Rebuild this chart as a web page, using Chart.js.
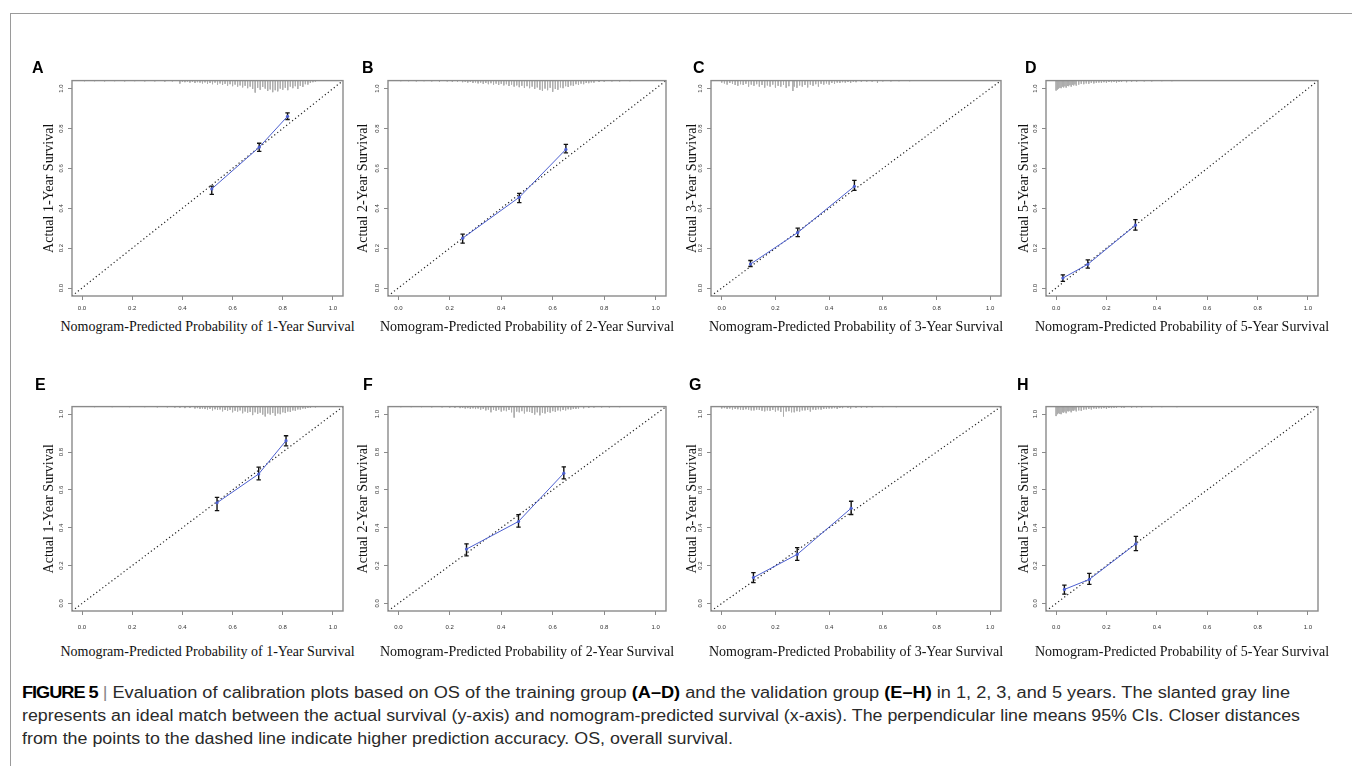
<!DOCTYPE html>
<html>
<head>
<meta charset="utf-8">
<script src="https://cdn.jsdelivr.net/npm/chart.js@4.4.1/dist/chart.umd.min.js"></script>
<style>
  body { margin: 0; background: #fff; width: 1352px; height: 766px; position: relative; overflow: hidden; }
  .frame { position: absolute; left: 10px; top: 13px; width: 1400px; height: 800px; border-left: 1px solid #9a9a9a; border-top: 1px solid #9a9a9a; }
  canvas { position: absolute; }
  .letter { position: absolute; font: bold 16px "Liberation Sans", Arial, sans-serif; line-height: 16px; color: #000; }
  .xt { position: absolute; font: 14px "Liberation Serif", "Times New Roman", serif; line-height: 16px; white-space: nowrap; transform: translateX(-50%); color: #111; }
  .cap { position: absolute; left: 22px; font: 16px "Liberation Sans", Arial, sans-serif; line-height: 18px; white-space: nowrap; transform-origin: 0 0; color: #2a2a2a; }
  .cap b { font-weight: bold; color: #000; }
  .cap b.fig { letter-spacing: -0.9px; }
  .cap .sep { color: #888; }
</style>
</head>
<body>
<div class="frame"></div>
<div id="root"></div>
<div class="cap" id="cap1" style="top:684px"><b class="fig">FIGURE 5</b> <span class="sep">|</span> Evaluation of calibration plots based on OS of the training group <b>(A–D)</b> and the validation group <b>(E–H)</b> in 1, 2, 3, and 5 years. The slanted gray line</div>
<div class="cap" id="cap2" style="top:707px">represents an ideal match between the actual survival (y-axis) and nomogram-predicted survival (x-axis). The perpendicular line means 95% CIs. Closer distances</div>
<div class="cap" id="cap3" style="top:730px">from the points to the dashed line indicate higher prediction accuracy. OS, overall survival.</div>
<script>
// axis range (R pads 4% each side) and tick labels
const axisMin = -0.04
const axisMax = 1.04
const tickValues = [0, 0.2, 0.4, 0.6, 0.8, 1.0]

// training group
const predA = [0.517, 0.706, 0.819]
const obsA = [0.497, 0.706, 0.861]
const loA = [0.470, 0.685, 0.845]
const hiA = [0.511, 0.726, 0.878]

const predB = [0.250, 0.470, 0.651]
const obsB = [0.250, 0.455, 0.695]
const loB = [0.225, 0.428, 0.678]
const hiB = [0.270, 0.475, 0.720]

const predC = [0.107, 0.283, 0.494]
const obsC = [0.120, 0.278, 0.510]
const loC = [0.108, 0.258, 0.490]
const hiC = [0.138, 0.300, 0.540]

const predD = [0.027, 0.126, 0.315]
const obsD = [0.050, 0.119, 0.315]
const loD = [0.033, 0.100, 0.290]
const hiD = [0.066, 0.141, 0.343]

// validation group
const predE = [0.538, 0.704, 0.813]
const obsE = [0.532, 0.684, 0.860]
const loE = [0.490, 0.653, 0.833]
const hiE = [0.560, 0.720, 0.886]

const predF = [0.265, 0.467, 0.643]
const obsF = [0.287, 0.433, 0.688]
const loF = [0.251, 0.403, 0.658]
const hiF = [0.315, 0.469, 0.722]

const predG = [0.118, 0.281, 0.482]
const obsG = [0.137, 0.259, 0.503]
const loG = [0.110, 0.228, 0.470]
const hiG = [0.163, 0.295, 0.540]

const predH = [0.033, 0.132, 0.317]
const obsH = [0.074, 0.127, 0.315]
const loH = [0.049, 0.101, 0.279]
const hiH = [0.097, 0.159, 0.354]

// spike histograms at the top: [predicted prob, spike length]
const rugA = [[0.01,.003],[0.05,.003],[0.09,.004],[0.13,.003],[0.17,.004],[0.21,.003],[0.25,.004],[0.29,.004],[0.33,.005],[0.36,.004],[0.39,.015],
    [0.40,.006],[0.41,.008],[0.42,.005],[0.43,.01],[0.44,.006],[0.45,.012],[0.46,.008],[0.47,.01],[0.48,.014],[0.49,.009],[0.50,.016],
    [0.51,.012],[0.52,.018],[0.53,.01],[0.54,.02],[0.55,.014],[0.56,.022],[0.57,.016],[0.58,.025],[0.59,.018],[0.60,.028],[0.61,.02],
    [0.62,.03],[0.63,.024],[0.64,.034],[0.65,.026],[0.66,.038],[0.67,.03],[0.68,.042],[0.69,.06],[0.70,.036],[0.71,.046],[0.72,.032],
    [0.73,.04],[0.74,.052],[0.75,.044],[0.76,.058],[0.77,.048],[0.78,.054],[0.79,.04],[0.80,.046],[0.81,.036],[0.82,.048],[0.83,.03],
    [0.84,.038],[0.85,.028],[0.86,.042],[0.87,.026],[0.88,.032],[0.89,.018],[0.90,.02],[0.91,.012],[0.92,.008],[0.93,.005]]
const rugB = [[0.01,.003],[0.04,.003],[0.07,.004],[0.1,.003],[0.13,.004],[0.16,.005],[0.19,.004],[0.21,.006],[0.23,.005],[0.25,.008],
    [0.26,.006],[0.27,.01],[0.28,.007],[0.29,.012],[0.30,.009],[0.31,.014],[0.32,.01],[0.33,.016],[0.34,.012],[0.35,.018],[0.36,.013],
    [0.37,.02],[0.38,.015],[0.39,.022],[0.40,.016],[0.41,.024],[0.42,.018],[0.43,.027],[0.44,.02],[0.45,.03],[0.46,.024],[0.47,.033],
    [0.48,.026],[0.49,.036],[0.50,.028],[0.51,.038],[0.52,.03],[0.53,.042],[0.54,.034],[0.55,.046],[0.56,.052],[0.57,.04],[0.58,.048],
    [0.59,.036],[0.60,.056],[0.61,.042],[0.62,.046],[0.63,.034],[0.64,.038],[0.65,.028],[0.66,.032],[0.67,.024],[0.68,.026],[0.69,.018],
    [0.70,.022],[0.71,.015],[0.72,.018],[0.73,.012],[0.74,.013],[0.75,.009],[0.76,.01],[0.78,.007],[0.8,.006],[0.83,.004],[0.86,.004],[0.9,.003]]
const rugC = [[0.0,.01],[0.01,.014],[0.02,.02],[0.03,.012],[0.04,.016],[0.05,.022],[0.06,.026],[0.07,.018],[0.08,.022],[0.09,.016],
    [0.10,.03],[0.11,.02],[0.12,.026],[0.13,.018],[0.14,.03],[0.15,.022],[0.16,.035],[0.17,.024],[0.18,.03],[0.19,.02],[0.20,.035],
    [0.21,.026],[0.22,.03],[0.23,.022],[0.24,.036],[0.25,.028],[0.265,.052],[0.27,.03],[0.28,.036],[0.29,.024],[0.30,.03],[0.31,.022],
    [0.32,.034],[0.33,.02],[0.34,.026],[0.35,.018],[0.36,.03],[0.37,.016],[0.38,.02],[0.39,.014],[0.40,.02],[0.41,.012],[0.42,.016],
    [0.43,.01],[0.44,.012],[0.45,.008],[0.46,.01],[0.47,.007],[0.48,.012],[0.49,.006],[0.50,.008],[0.52,.006],[0.54,.005],[0.56,.005],
    [0.58,.012],[0.6,.004],[0.63,.004],[0.66,.003],[0.7,.003]]
const rugD = [[0.0,.05],[0.005,.045],[0.01,.04],[0.015,.036],[0.02,.038],[0.025,.03],[0.03,.034],[0.035,.028],[0.04,.035],[0.045,.026],
    [0.05,.028],[0.055,.022],[0.06,.03],[0.065,.02],[0.07,.024],[0.075,.018],[0.08,.025],[0.09,.02],[0.1,.016],[0.11,.018],[0.12,.014],
    [0.13,.016],[0.14,.012],[0.15,.014],[0.16,.012],[0.17,.01],[0.18,.011],[0.19,.008],[0.2,.012],[0.21,.007],[0.22,.008],[0.23,.006],
    [0.24,.01],[0.25,.006],[0.26,.006],[0.28,.008],[0.3,.005],[0.32,.005],[0.35,.004],[0.38,.004],[0.42,.003],[0.46,.003],[0.5,.002]]
const rugE = [[0.05,.003],[0.12,.003],[0.19,.003],[0.25,.003],[0.3,.004],[0.34,.004],[0.37,.005],[0.39,.006],[0.41,.008],[0.43,.007],
    [0.45,.01],[0.46,.008],[0.47,.012],[0.48,.01],[0.49,.013],[0.50,.015],[0.51,.012],[0.52,.02],[0.53,.014],[0.54,.018],[0.55,.015],
    [0.56,.025],[0.57,.018],[0.58,.022],[0.59,.017],[0.60,.03],[0.61,.022],[0.62,.026],[0.63,.02],[0.64,.035],[0.65,.026],[0.66,.032],
    [0.67,.028],[0.68,.045],[0.69,.03],[0.70,.038],[0.71,.032],[0.72,.042],[0.73,.052],[0.74,.036],[0.75,.042],[0.76,.034],[0.77,.048],
    [0.78,.036],[0.79,.04],[0.80,.03],[0.81,.034],[0.82,.026],[0.83,.028],[0.84,.02],[0.85,.022],[0.86,.015],[0.87,.016],[0.88,.01],
    [0.89,.011],[0.90,.007],[0.91,.006],[0.93,.004]]
const rugF = [[0.01,.003],[0.05,.003],[0.09,.003],[0.13,.004],[0.17,.004],[0.2,.005],[0.22,.006],[0.24,.008],[0.25,.006],[0.26,.01],
    [0.27,.008],[0.28,.012],[0.29,.009],[0.30,.013],[0.31,.01],[0.32,.016],[0.33,.012],[0.34,.02],[0.35,.016],[0.36,.03],[0.37,.018],
    [0.38,.022],[0.39,.016],[0.40,.026],[0.41,.02],[0.42,.024],[0.43,.018],[0.44,.03],[0.45,.058],[0.46,.026],[0.47,.03],[0.48,.024],
    [0.49,.036],[0.50,.026],[0.51,.028],[0.52,.034],[0.53,.042],[0.54,.03],[0.55,.046],[0.56,.032],[0.57,.036],[0.58,.028],[0.59,.032],
    [0.60,.024],[0.61,.028],[0.62,.02],[0.63,.024],[0.64,.018],[0.65,.02],[0.66,.014],[0.67,.016],[0.68,.012],[0.69,.012],[0.70,.01],
    [0.72,.009],[0.74,.007],[0.76,.005],[0.79,.004],[0.82,.004],[0.86,.003]]
const rugG = [[0.0,.01],[0.01,.008],[0.02,.012],[0.03,.01],[0.04,.015],[0.05,.012],[0.06,.014],[0.07,.016],[0.08,.018],[0.09,.014],
    [0.10,.016],[0.11,.02],[0.12,.02],[0.13,.016],[0.14,.018],[0.15,.022],[0.16,.025],[0.17,.02],[0.18,.022],[0.19,.018],[0.20,.026],
    [0.21,.02],[0.22,.028],[0.23,.052],[0.24,.026],[0.25,.024],[0.26,.03],[0.27,.03],[0.28,.024],[0.29,.026],[0.30,.02],[0.31,.02],
    [0.32,.018],[0.33,.026],[0.34,.016],[0.35,.018],[0.36,.014],[0.37,.016],[0.38,.012],[0.39,.012],[0.40,.01],[0.41,.01],[0.42,.008],
    [0.43,.012],[0.44,.007],[0.45,.008],[0.47,.006],[0.48,.01],[0.5,.006],[0.52,.005],[0.54,.005],[0.56,.004],[0.6,.003],[0.65,.003],[0.7,.002],[0.74,.002]]
const rugH = [[0.0,.05],[0.005,.04],[0.01,.035],[0.015,.038],[0.02,.04],[0.025,.03],[0.03,.032],[0.035,.026],[0.04,.035],[0.045,.024],
    [0.05,.025],[0.055,.022],[0.06,.03],[0.065,.02],[0.07,.022],[0.075,.016],[0.08,.025],[0.09,.02],[0.1,.022],[0.11,.016],[0.12,.015],
    [0.13,.012],[0.14,.015],[0.15,.01],[0.16,.012],[0.17,.009],[0.18,.01],[0.19,.008],[0.2,.012],[0.21,.007],[0.22,.008],[0.23,.006],
    [0.24,.006],[0.26,.005],[0.27,.006],[0.3,.005],[0.32,.004],[0.34,.004],[0.38,.004],[0.42,.003],[0.48,.003],[0.55,.002],[0.6,.002]]

const years = [1, 2, 3, 5]

// layout: plot box edges for each column / row
const colBox = [[72, 343], [388, 666], [711, 1001], [1046, 1318]]
const rowBox = [[80, 296], [406, 611]]
const yTitlePad = [14, 12, 18, 15]
const letterPos = [[32, 60], [362, 60], [693, 60], [1025, 60], [35, 377], [363, 377], [689, 377], [1017, 377]]
const xTitleY = [319, 644]

const panels = [
    { id: 'A', pred: predA, obs: obsA, lo: loA, hi: hiA, rug: rugA },
    { id: 'B', pred: predB, obs: obsB, lo: loB, hi: hiB, rug: rugB },
    { id: 'C', pred: predC, obs: obsC, lo: loC, hi: hiC, rug: rugC },
    { id: 'D', pred: predD, obs: obsD, lo: loD, hi: hiD, rug: rugD },
    { id: 'E', pred: predE, obs: obsE, lo: loE, hi: hiE, rug: rugE },
    { id: 'F', pred: predF, obs: obsF, lo: loF, hi: hiF, rug: rugF },
    { id: 'G', pred: predG, obs: obsG, lo: loG, hi: hiG, rug: rugG },
    { id: 'H', pred: predH, obs: obsH, lo: loH, hi: hiH, rug: rugH },
]

const axisGray = '#8a8a8a'
const blue = '#4c5fd0'

// R-style box around the plot region
const framePlugin = {
    id: 'frame',
    afterDatasetsDraw(chart) {
        const { ctx, chartArea: a } = chart
        ctx.save()
        ctx.strokeStyle = axisGray
        ctx.lineWidth = 1.4
        ctx.strokeRect(a.left, a.top, a.right - a.left, a.bottom - a.top)
        ctx.restore()
    },
}

const root = document.getElementById('root')

panels.forEach((p, i) => {
    const col = i % 4
    const row = Math.floor(i / 4)
    const [bl, br] = colBox[col]
    const [bt, bb] = rowBox[row]
    const year = years[col]

    const cl = bl - 45
    const cr = br + 8
    const ct = bt - 5
    const cb = bb + 22

    const canvas = document.createElement('canvas')
    canvas.width = cr - cl
    canvas.height = cb - ct
    canvas.style.left = cl + 'px'
    canvas.style.top = ct + 'px'
    root.appendChild(canvas)

    const letter = document.createElement('div')
    letter.className = 'letter'
    letter.textContent = p.id
    letter.style.left = letterPos[i][0] + 'px'
    letter.style.top = letterPos[i][1] + 'px'
    root.appendChild(letter)

    const xt = document.createElement('div')
    xt.className = 'xt'
    xt.textContent = `Nomogram-Predicted Probability of ${year}-Year Survival`
    xt.style.left = (bl + br) / 2 + 'px'
    xt.style.top = xTitleY[row] + 'px'
    root.appendChild(xt)

    const rugData = []
    p.rug.forEach(([x, h]) => {
        rugData.push({ x, y: axisMax }, { x, y: axisMax - h }, { x, y: null })
    })
    const ciData = []
    const capData = []
    p.pred.forEach((x, k) => {
        ciData.push({ x, y: p.lo[k] }, { x, y: p.hi[k] }, { x, y: null })
        capData.push({ x, y: p.lo[k] }, { x, y: p.hi[k] })
    })

    new Chart(canvas.getContext('2d'), {
        type: 'scatter',
        data: {
            datasets: [
                {
                    type: 'line',
                    data: p.pred.map((x, k) => ({ x, y: p.obs[k] })),
                    borderColor: blue,
                    borderWidth: 1,
                    pointRadius: 1.6,
                    pointBackgroundColor: blue,
                    pointBorderWidth: 0,
                },
                {
                    data: capData,
                    pointStyle: 'line',
                    pointRadius: 2.2,
                    borderColor: '#111',
                    pointBorderWidth: 1.3,
                    showLine: false,
                },
                {
                    type: 'line',
                    data: ciData,
                    borderColor: '#111',
                    borderWidth: 1.4,
                    pointRadius: 0,
                    spanGaps: false,
                },
                {
                    type: 'line',
                    data: [{ x: axisMin, y: axisMin }, { x: axisMax, y: axisMax }],
                    borderColor: '#222',
                    borderWidth: 1.2,
                    borderDash: [1.2, 2.6],
                    pointRadius: 0,
                },
                {
                    type: 'line',
                    data: rugData,
                    borderColor: '#adadad',
                    borderWidth: 1,
                    pointRadius: 0,
                    spanGaps: false,
                },
            ],
        },
        options: {
            responsive: false,
            animation: false,
            devicePixelRatio: 1,
            layout: { padding: { top: bt - ct, right: cr - br, left: 0, bottom: 0 } },
            plugins: { legend: { display: false }, tooltip: { enabled: false } },
            scales: {
                x: {
                    type: 'linear',
                    min: axisMin,
                    max: axisMax,
                    afterBuildTicks: (s) => { s.ticks = tickValues.map((v) => ({ value: v })) },
                    afterFit: (s) => { s.height = cb - bb },
                    grid: { drawOnChartArea: false, drawTicks: true, tickLength: 4, color: axisGray, lineWidth: 1 },
                    border: { display: false },
                    ticks: {
                        font: { family: 'Liberation Sans', size: 6 },
                        color: '#333',
                        padding: row === 0 ? 5 : 9,
                        maxRotation: 0,
                        callback: (v) => Number(v).toFixed(1),
                    },
                },
                y: {
                    type: 'linear',
                    min: axisMin,
                    max: axisMax,
                    afterBuildTicks: (s) => { s.ticks = tickValues.map((v) => ({ value: v })) },
                    afterFit: (s) => { s.width = bl - cl },
                    grid: { drawOnChartArea: false, drawTicks: true, tickLength: 4, color: axisGray, lineWidth: 1 },
                    border: { display: false },
                    title: {
                        display: true,
                        text: `Actual ${year}-Year Survival`,
                        font: { family: 'Liberation Serif', size: 14 },
                        color: '#111',
                        padding: { top: yTitlePad[col], bottom: 0 },
                    },
                    ticks: {
                        font: { family: 'Liberation Sans', size: 6 },
                        color: '#333',
                        padding: 2,
                        minRotation: 90,
                        maxRotation: 90,
                        crossAlign: 'center',
                        callback: (v) => Number(v).toFixed(1),
                    },
                },
            },
        },
        plugins: [framePlugin],
    })
})

// squeeze caption lines to the measured line widths of the original
const capWidths = { cap1: 1268, cap2: 1278, cap3: 711 }
Object.keys(capWidths).forEach((id) => {
    const el = document.getElementById(id)
    const w = el.getBoundingClientRect().width
    el.style.transform = `scaleX(${capWidths[id] / w})`
})
</script>
</body>
</html>
